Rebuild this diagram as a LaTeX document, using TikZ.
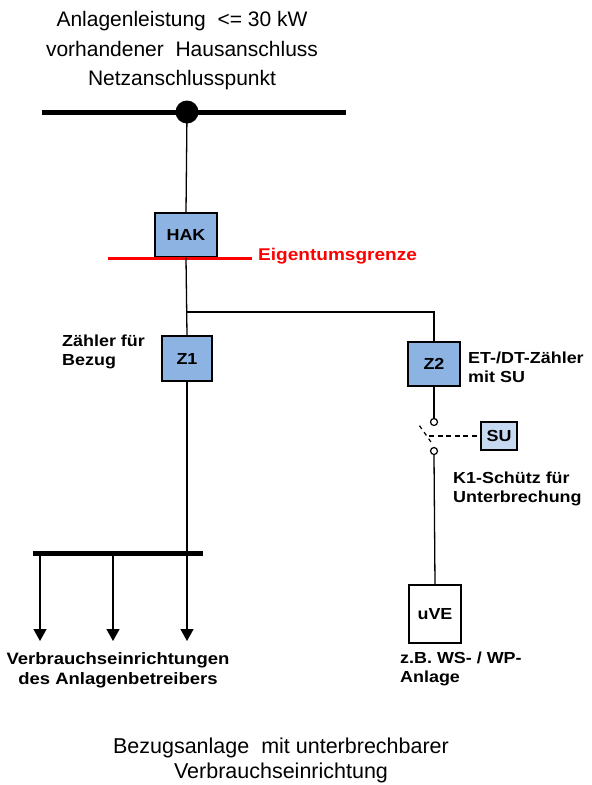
\documentclass[tikz,border=0pt]{standalone}
\usepackage{fontspec}
\setmainfont{Liberation Sans}
\newfontfamily\lblfont[FakeStretch=1.12]{Liberation Sans}
\usetikzlibrary{arrows.meta}
\definecolor{boxblue}{RGB}{141,179,226}
\definecolor{lightblue}{RGB}{198,217,241}
\begin{document}
\begin{tikzpicture}[x=1pt,y=-1pt,
  wire/.style={line width=1.3pt},
  bus/.style={line width=5pt},
  meter/.style={draw, line width=1.5pt, fill=boxblue, inner sep=0pt, font=\lblfont\bfseries\fontsize{16}{19}\selectfont},
  label/.style={font=\lblfont\bfseries\fontsize{16}{19}\selectfont, align=left, anchor=west, inner sep=0pt},
  plain/.style={font=\fontsize{21}{29.5}\selectfont, align=center, inner sep=0pt},
  contact/.style={circle, draw, line width=1.2pt, fill=white, inner sep=0pt, minimum size=7pt},
  load/.style={wire, -{Triangle[width=13pt,length=12pt]}}
]
\useasboundingbox (0,0) rectangle (592,785);

% top text
\node[plain] (top) at (182,51) {Anlagenleistung\ \ <= 30 kW\\vorhandener\ \ Hausanschluss\\Netzanschlusspunkt};

% supply bus
\coordinate (busL) at (42,112);
\coordinate (busR) at (346,112);
\draw[bus] (busL) -- (busR);
\node[circle, fill=black, inner sep=0pt, minimum size=23pt] (dot) at (187,112) {};

% HAK
\node[meter, minimum width=62pt, minimum height=44pt] (HAK) at (186,235) {HAK};
\draw[wire] (dot.center) -- (HAK.north);

% property boundary
\coordinate (egL) at (108,258);
\coordinate (egR) at (252,258);
\draw[red, line width=3pt] (egL) -- (egR);
\node[label, text=red, font=\lblfont\bfseries\fontsize{17}{20}\selectfont] (eg) at (258,256) {Eigentumsgrenze};

% Z1
\node[meter, minimum width=50pt, minimum height=45pt] (Z1) at (187,358.5) {Z1};
\node[label] (z1txt) at (62,351.5) {Zähler für\\Bezug};
\coordinate (br) at (187,312);
\draw[wire] (HAK.south) -- (Z1.north);

% Z2
\node[meter, minimum width=52pt, minimum height=44pt] (Z2) at (434,364) {Z2};
\draw[wire] (br) -| (Z2.north);
\node[label] (z2txt) at (468,367.5) {ET-/DT-Zähler\\mit SU};

% switch
\node[contact] (c1) at (434,422) {};
\node[contact] (c2) at (434,451) {};
\draw[wire] (Z2.south) -- (c1.north);
\coordinate (bladeA) at (431,442);
\coordinate (bladeB) at (419,425);
\draw[line width=1.2pt, dash pattern=on 4pt off 4pt] (bladeA) -- (bladeB);
\node[meter, fill=lightblue, minimum width=36pt, minimum height=28pt] (SU) at (499,436) {SU};
\coordinate (dashS) at (429,436);
\draw[line width=1.2pt, dash pattern=on 5pt off 3.5pt] (dashS) -- (SU.west);
\node[label] (k1txt) at (453,488.5) {K1-Schütz für\\Unterbrechung};

% uVE
\node[draw, line width=1.5pt, fill=white, minimum width=52pt, minimum height=58pt, inner sep=0pt, font=\lblfont\bfseries\fontsize{16}{19}\selectfont] (uVE) at (435,614) {uVE};
\draw[wire] (c2.south) -- (uVE.north);
\node[label] (uvetxt) at (400,668.5) {z.B. WS- / WP-\\Anlage};

% consumer bus
\coordinate (cbL) at (33,553);
\coordinate (cbR) at (203,553);
\draw[bus] (cbL) -- (cbR);
\coordinate (a1s) at (40,553);
\coordinate (a2s) at (113,553);
\coordinate (a1e) at (40,641);
\coordinate (a2e) at (113,641);
\coordinate (a3e) at (187,641);
\draw[load] (a1s) -- (a1e);
\draw[load] (a2s) -- (a2e);
\draw[load] (Z1.south) -- (a3e);
\node[label, anchor=center, align=center, font=\lblfont\bfseries\fontsize{16.5}{20}\selectfont] (vtxt) at (118,670) {Verbrauchseinrichtungen\\des Anlagenbetreibers};

% caption
\node[plain, font=\fontsize{21.5}{25}\selectfont] (cap) at (281,760) {Bezugsanlage\ \ mit unterbrechbarer\\Verbrauchseinrichtung};
\end{tikzpicture}
\end{document}
